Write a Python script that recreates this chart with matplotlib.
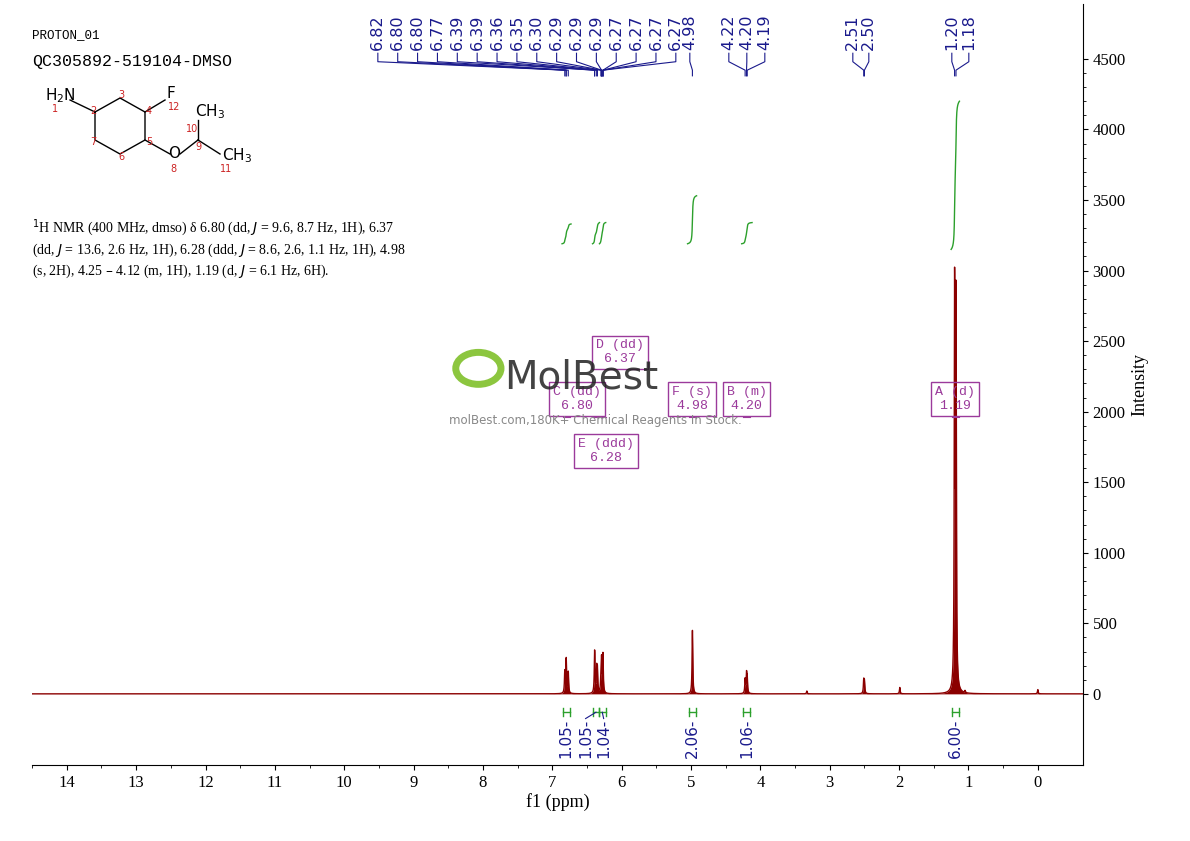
import numpy as np
import matplotlib.pyplot as plt

# ---- peak data (ppm, height) ----
peak_ppm = [6.82, 6.80, 6.80, 6.77, 6.39, 6.39, 6.36, 6.35, 6.30, 6.29, 6.29, 6.29,
            6.27, 6.27, 6.27, 6.27, 4.98, 4.22, 4.20, 4.19, 2.51, 2.50, 1.20, 1.18,
            3.33, 1.99, 0.0, 1.05]
peak_h = [150, 120, 120, 150, 150, 150, 160, 150, 80, 80, 80, 70,
          70, 70, 70, 60, 450, 100, 130, 100, 90, 80, 2800, 2700,
          20, 45, 30, 15]
width = 0.006

top_labels = ['6.82', '6.80', '6.80', '6.77', '6.39', '6.39', '6.36', '6.35', '6.30', '6.29',
              '6.29', '6.29', '6.27', '6.27', '6.27', '6.27', '4.98', '4.22', '4.20', '4.19',
              '2.51', '2.50', '1.20', '1.18']
label_px = list(np.linspace(378, 676, 16)) + [690, 729, 747, 765, 853, 869, 952, 969]

integ_regions = [(6.86, 6.73), (6.42, 6.32), (6.32, 6.23), (5.05, 4.92), (4.27, 4.12), (1.25, 1.13)]
integ_vals = ['1.05', '1.05', '1.04', '2.06', '1.06', '6.00']
integ_x = [6.80, 6.37, 6.28, 4.98, 4.20, 1.19]
integ_text_x = [6.80, 6.52, 6.26, 4.98, 4.20, 1.19]
integ_lo = [3190, 3190, 3190, 3190, 3190, 3150]
integ_hi = [3330, 3340, 3340, 3530, 3340, 4200]

box_labels = [('D (dd)\n6.37', 6.37, 6.03, 2420), ('C (dd)\n6.80', 6.80, 6.65, 2090),
              ('E (ddd)\n6.28', 6.28, 6.23, 1720), ('F (s)\n4.98', 4.98, 4.98, 2090),
              ('B (m)\n4.20', 4.20, 4.20, 2090), ('A (d)\n1.19', 1.19, 1.19, 2090)]

def px2ppm(px):
    return (1038 - px) / 69.36

x = np.linspace(14.5, -0.65, 40000)
y = np.zeros_like(x)
for p, h in zip(peak_ppm, peak_h):
    y += h / (1 + ((x - p) / width) ** 2)

fig = plt.figure(figsize=(11.9, 8.41), dpi=100)
ax = fig.add_axes([0.027, 0.0904, 0.883, 0.905])
ax.plot(x, y, color='#8b0000', lw=1)
ax.fill_between(x, 0, y, color='#8b0000', lw=0)
ax.set_xlim(14.5, -0.65)
ax.set_ylim(-504, 4890)
ax.set_xticks(range(0, 15))
ax.set_xticks(np.arange(0, 14.6, 0.5), minor=True)
ax.tick_params(axis='x', labelsize=12, direction='out')
for lab in ax.get_xticklabels():
    lab.set_family('Liberation Serif')
ax.set_xlabel('f1 (ppm)', family='Liberation Serif', fontsize=13, labelpad=2)
for s in ['top', 'right', 'left']:
    ax.spines[s].set_visible(False)
ax.set_yticks([])

ay = ax.twinx()
ay.set_ylim(ax.get_ylim())
ay.set_yticks(range(0, 4501, 500))
ay.set_yticks(range(0, 4501, 100), minor=True)
for s in ['top', 'left', 'bottom']:
    ay.spines[s].set_visible(False)
ay.tick_params(axis='y', labelsize=12)
for lab in ay.get_yticklabels():
    lab.set_family('Liberation Serif')
ay.set_ylabel('Intensity', family='Liberation Serif', fontsize=13)

# peak labels
navy = '#1a1a8c'
for lab, lpx, p in zip(top_labels, label_px, peak_ppm):
    lx = px2ppm(lpx)
    ax.text(lx, 4560, lab, rotation=90, ha='center', va='bottom', fontsize=11.5, color=navy)
    ax.plot([lx, lx, p, p], [4540, 4480, 4420, 4380], color=navy, lw=0.8, clip_on=False)

# integrals
for (a, b), v, ix, tx, lo, hi in zip(integ_regions, integ_vals, integ_x, integ_text_x,
                                     integ_lo, integ_hi):
    m = (x <= a) & (x >= b)
    c = np.cumsum(y[m][::-1])[::-1]
    c = c.max() - c
    ax.plot(x[m], lo + (hi - lo) * c / c.max(), color='#2ca02c', lw=1)
    ax.plot([ix + 0.05, ix - 0.05], [-130, -130], color='#2ca02c', lw=1)
    ax.plot([ix + 0.05] * 2, [-100, -160], color='#2ca02c', lw=1)
    ax.plot([ix - 0.05] * 2, [-100, -160], color='#2ca02c', lw=1)
    if tx != ix:
        ax.plot([ix, tx], [-130, -175], color=navy, lw=0.8)
    ax.text(tx, -175, v + '-', rotation=90, ha='center', va='top', fontsize=11, color=navy)

# multiplet boxes
for txt, p, bx, by in box_labels:
    ax.text(bx, by, txt, ha='center', va='center', family='Liberation Mono', fontsize=9.5,
            color='#9b3a9b', bbox=dict(boxstyle='square,pad=0.3', fc='none', ec='#9b3a9b'))
    ax.plot([p - 0.05, p + 0.05], [1960, 1960], color='#9b3a9b', lw=0.8)

# watermark
fig.add_artist(plt.Circle((0.402, 0.562), 0.019, transform=fig.transFigure, fc='none',
                          ec='#8cc63f', lw=5))
fig.text(0.424, 0.538, 'MolBest', fontsize=28, color='#222222', ha='left',
         family='DejaVu Sans Condensed', alpha=0.85)
fig.text(0.50, 0.496, 'molBest.com,180K+ Chemical Reagents In Stock.', fontsize=8.5,
         color='#888888', ha='center')

fig.text(0.027, 0.955, 'PROTON_01', family='Liberation Mono', fontsize=9)
fig.text(0.027, 0.922, 'QC305892-519104-DMSO', family='Liberation Mono', fontsize=12)
fig.text(0.027, 0.667,
         r'$^{1}$H NMR (400 MHz, dmso) δ 6.80 (dd, $J$ = 9.6, 8.7 Hz, 1H), 6.37' '\n'
         r'(dd, $J$ = 13.6, 2.6 Hz, 1H), 6.28 (ddd, $J$ = 8.6, 2.6, 1.1 Hz, 1H), 4.98' '\n'
         r'(s, 2H), 4.25 – 4.12 (m, 1H), 1.19 (d, $J$ = 6.1 Hz, 6H).',
         family='Liberation Serif', fontsize=10, va='bottom', ha='left', linespacing=1.3)

# structure sketch (figure coords)
sx = np.array([95, 120, 145, 145, 120, 95, 95]) / 1190
sy = 1 - np.array([112, 98, 112, 140, 154, 140, 112]) / 841
fig.add_artist(plt.Line2D(sx, sy, color='k', lw=1))
for xs, ys in [([70, 95], [100, 112]), ([145, 165], [112, 100]), ([145, 170], [140, 154]),
               ([180, 198], [154, 140]), ([198, 198], [140, 120]), ([198, 220], [140, 154])]:
    fig.add_artist(plt.Line2D(np.array(xs) / 1190, 1 - np.array(ys) / 841, color='k', lw=1))
for t, px, py in [('H$_2$N', 45, 100), ('F', 167, 98), ('O', 168, 158), ('CH$_3$', 195, 116),
                  ('CH$_3$', 222, 160)]:
    fig.text(px / 1190, 1 - py / 841, t, fontsize=11)
for t, px, py in [('1', 52, 112), ('2', 90, 114), ('3', 118, 98), ('4', 146, 114), ('12', 168, 110),
                  ('5', 146, 145), ('6', 118, 160), ('7', 90, 145), ('8', 170, 172), ('9', 195, 150),
                  ('10', 186, 132), ('11', 220, 172)]:
    fig.text(px / 1190, 1 - py / 841, t, fontsize=7, color='#cc2222')

fig.savefig('out.png', dpi=100)
